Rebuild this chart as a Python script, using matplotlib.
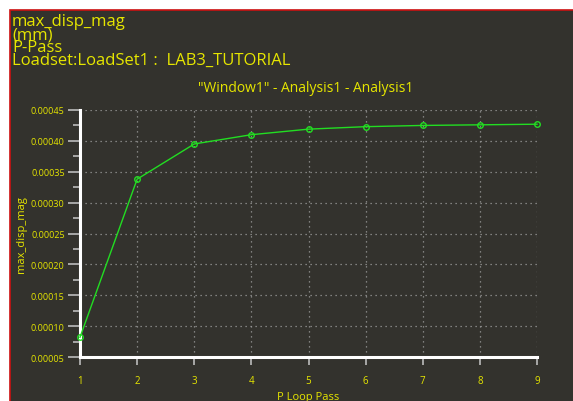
import matplotlib
matplotlib.use("Agg")
import matplotlib.pyplot as plt
from matplotlib.patches import Rectangle
from matplotlib.ticker import MultipleLocator, FormatStrFormatter

passes = [1, 2, 3, 4, 5, 6, 7, 8, 9]
max_disp = [0.000082, 0.000338, 0.000395, 0.000410, 0.000419, 0.000423, 0.000425, 0.000426, 0.000427]
header_lines = ["max_disp_mag", "(mm)", "P-Pass", "Loadset:LoadSet1 :  LAB3_TUTORIAL"]
subtitle = '"Window1" - Analysis1 - Analysis1'
xlabel = "P Loop Pass"
ylabel = "max_disp_mag"

BG = "#33322d"
YEL = "#e6e600"
GREEN = "#22dd22"
FONT = ["Open Sans", "DejaVu Sans"]

W, H = 573, 402
fig = plt.figure(figsize=(W / 100, H / 100), dpi=100)
fig.patch.set_facecolor("white")
fig.patches.append(Rectangle((9.5 / W, -0.01), 1.1, 1 - 10.5 / H + 0.01, transform=fig.transFigure,
                             facecolor=BG, edgecolor="#cc1111", linewidth=1.2, zorder=-10))

ax = fig.add_axes([80 / W, 1 - 358 / H, (537 - 80) / W, (358 - 111) / H])
ax.set_zorder(5)
ax.set_facecolor(BG)
ax.plot(passes, max_disp, color=GREEN, lw=1.0, marker="o", ms=4, mfc="none", mec=GREEN, mew=1.0,
        clip_on=False, zorder=3)

ax.set_xlim(1, 9)
ax.set_ylim(0.00005, 0.00045)
ax.xaxis.set_major_locator(MultipleLocator(1))
ax.yaxis.set_major_locator(MultipleLocator(0.00005))
ax.yaxis.set_minor_locator(MultipleLocator(0.000025))
ax.yaxis.set_major_formatter(FormatStrFormatter("%.5f"))

for s in ["top", "right"]:
    ax.spines[s].set_visible(False)
for s in ["left", "bottom"]:
    ax.spines[s].set_color("white")
    ax.spines[s].set_linewidth(2.2)

ax.grid(True, which="major", color="#9a9a9a", linestyle=(0, (1, 3)), linewidth=0.9)
ax.tick_params(axis="y", which="major", length=9, width=1.2, color="#bbbbbb", labelsize=6.5,
               labelcolor=YEL, pad=2)
ax.tick_params(axis="y", which="minor", length=5, width=1.2, color="#bbbbbb")
ax.tick_params(axis="x", which="major", length=6, width=1.2, color="#bbbbbb", labelsize=7,
               labelcolor=YEL, pad=7)
for lab in ax.get_xticklabels() + ax.get_yticklabels():
    lab.set_family(FONT)

ax.set_xlabel(xlabel, color=YEL, fontsize=8, family=FONT)
ax.xaxis.set_label_coords(0.5, -34 / (358 - 111))
ax.set_ylabel(ylabel, color=YEL, fontsize=8, family=FONT)
ax.yaxis.set_label_coords(-53 / (537 - 80), 0.5)

ys = [22, 35, 48, 61]
for t, y in zip(header_lines, ys):
    fig.text(12 / W, 1 - y / H, t, color=YEL, fontsize=12, family=FONT, va="center", ha="left")
fig.text(306 / W, 1 - 89 / H, subtitle, color=YEL, fontsize=10, family=FONT, va="center", ha="center")

fig.savefig("out.png", dpi=100, facecolor=fig.get_facecolor())
